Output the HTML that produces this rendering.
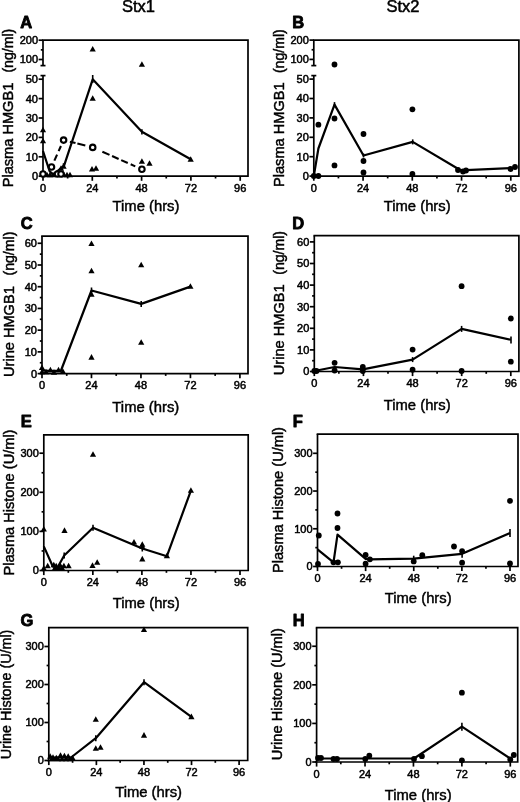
<!DOCTYPE html>
<html><head><meta charset="utf-8"><style>
html,body{margin:0;padding:0;background:#fff;width:520px;height:802px;overflow:hidden}
svg{display:block;will-change:transform}
text{fill:#000}
</style></head><body>
<svg width="520" height="802" viewBox="0 0 520 802" font-family='"Liberation Sans", sans-serif'>
<rect width="520" height="802" fill="#fff"/>
<text x="138.4" y="11.9" font-size="16.5" text-anchor="middle" stroke="#000" stroke-width="0.5">Stx1</text>
<text x="402.9" y="11.9" font-size="16.5" text-anchor="middle" stroke="#000" stroke-width="0.5">Stx2</text>
<path d="M43,40.2H248V176.2H42.2" fill="none" stroke="#000" stroke-width="1.7" stroke-linejoin="miter" stroke-linecap="square"/>
<line x1="43" y1="40.2" x2="43" y2="65.6" stroke="#000" stroke-width="1.7"/>
<line x1="43" y1="75.6" x2="43" y2="176.2" stroke="#000" stroke-width="1.7"/>
<line x1="40.5" y1="65.6" x2="45.5" y2="65.6" stroke="#000" stroke-width="1.7"/>
<line x1="40.5" y1="75.6" x2="45.5" y2="75.6" stroke="#000" stroke-width="1.7"/>
<line x1="43" y1="176.2" x2="43" y2="180.8" stroke="#000" stroke-width="1.7"/>
<text x="43" y="192" font-size="11" font-weight="normal" text-anchor="middle" stroke="#000" stroke-width="0.5">0</text>
<line x1="67.65" y1="176.2" x2="67.65" y2="178.5" stroke="#000" stroke-width="1.7"/>
<line x1="92.3" y1="176.2" x2="92.3" y2="180.8" stroke="#000" stroke-width="1.7"/>
<text x="92.3" y="192" font-size="11" font-weight="normal" text-anchor="middle" stroke="#000" stroke-width="0.5">24</text>
<line x1="116.95" y1="176.2" x2="116.95" y2="178.5" stroke="#000" stroke-width="1.7"/>
<line x1="141.6" y1="176.2" x2="141.6" y2="180.8" stroke="#000" stroke-width="1.7"/>
<text x="141.6" y="192" font-size="11" font-weight="normal" text-anchor="middle" stroke="#000" stroke-width="0.5">48</text>
<line x1="166.25" y1="176.2" x2="166.25" y2="178.5" stroke="#000" stroke-width="1.7"/>
<line x1="190.9" y1="176.2" x2="190.9" y2="180.8" stroke="#000" stroke-width="1.7"/>
<text x="190.9" y="192" font-size="11" font-weight="normal" text-anchor="middle" stroke="#000" stroke-width="0.5">72</text>
<line x1="215.55" y1="176.2" x2="215.55" y2="178.5" stroke="#000" stroke-width="1.7"/>
<line x1="240.2" y1="176.2" x2="240.2" y2="180.8" stroke="#000" stroke-width="1.7"/>
<text x="240.2" y="192" font-size="11" font-weight="normal" text-anchor="middle" stroke="#000" stroke-width="0.5">96</text>
<line x1="38.6" y1="176.2" x2="43" y2="176.2" stroke="#000" stroke-width="1.7"/>
<text x="38" y="180.15" font-size="11" font-weight="normal" text-anchor="end" stroke="#000" stroke-width="0.5">0</text>
<line x1="38.6" y1="156.8" x2="43" y2="156.8" stroke="#000" stroke-width="1.7"/>
<text x="38" y="160.75" font-size="11" font-weight="normal" text-anchor="end" stroke="#000" stroke-width="0.5">10</text>
<line x1="38.6" y1="137.4" x2="43" y2="137.4" stroke="#000" stroke-width="1.7"/>
<text x="38" y="141.35" font-size="11" font-weight="normal" text-anchor="end" stroke="#000" stroke-width="0.5">20</text>
<line x1="38.6" y1="118" x2="43" y2="118" stroke="#000" stroke-width="1.7"/>
<text x="38" y="121.95" font-size="11" font-weight="normal" text-anchor="end" stroke="#000" stroke-width="0.5">30</text>
<line x1="38.6" y1="98.6" x2="43" y2="98.6" stroke="#000" stroke-width="1.7"/>
<text x="38" y="102.55" font-size="11" font-weight="normal" text-anchor="end" stroke="#000" stroke-width="0.5">40</text>
<line x1="38.6" y1="79.2" x2="43" y2="79.2" stroke="#000" stroke-width="1.7"/>
<text x="38" y="83.15" font-size="11" font-weight="normal" text-anchor="end" stroke="#000" stroke-width="0.5">50</text>
<line x1="38.6" y1="59.5" x2="43" y2="59.5" stroke="#000" stroke-width="1.7"/>
<text x="38" y="63.45" font-size="11" font-weight="normal" text-anchor="end" stroke="#000" stroke-width="0.5">100</text>
<line x1="38.6" y1="40.2" x2="43" y2="40.2" stroke="#000" stroke-width="1.7"/>
<text x="38" y="44.15" font-size="11" font-weight="normal" text-anchor="end" stroke="#000" stroke-width="0.5">200</text>
<line x1="40.8" y1="49.85" x2="43" y2="49.85" stroke="#000" stroke-width="1.7"/>
<text x="20.2" y="28.3" font-size="16.5" font-weight="bold" stroke="#000" stroke-width="0.85" stroke-linejoin="round">A</text>
<text transform="translate(13.2,187.3) rotate(-90)" font-size="14.6" text-anchor="start" stroke="#000" stroke-width="0.45">Plasma HMGB1</text>
<text transform="translate(13.2,72.6) rotate(-90)" font-size="14.1" text-anchor="start" stroke="#000" stroke-width="0.45">(ng/ml)</text>
<text x="146" y="211" font-size="14.8" text-anchor="middle" stroke="#000" stroke-width="0.45">Time (hrs)</text>
<path d="M43,126.64L46.1,132.24L39.9,132.24Z" fill="#000"/>
<path d="M43,137.64L46.1,143.24L39.9,143.24Z" fill="#000"/>
<path d="M92.7,45.94L95.8,51.54L89.6,51.54Z" fill="#000"/>
<path d="M141.9,61.14L145,66.74L138.8,66.74Z" fill="#000"/>
<path d="M92.7,95.14L95.8,100.74L89.6,100.74Z" fill="#000"/>
<path d="M141.9,158.14L145,163.74L138.8,163.74Z" fill="#000"/>
<path d="M149.5,160.24L152.6,165.84L146.4,165.84Z" fill="#000"/>
<path d="M92,165.94L95.1,171.54L88.9,171.54Z" fill="#000"/>
<path d="M96,165.14L99.1,170.74L92.9,170.74Z" fill="#000"/>
<path d="M190.7,156.14L193.8,161.74L187.6,161.74Z" fill="#000"/>
<path d="M47,171.64L50.1,177.24L43.9,177.24Z" fill="#000"/>
<path d="M50,171.64L53.1,177.24L46.9,177.24Z" fill="#000"/>
<path d="M53,171.64L56.1,177.24L49.9,177.24Z" fill="#000"/>
<path d="M61,165.14L64.1,170.74L57.9,170.74Z" fill="#000"/>
<path d="M63.6,163.14L66.7,168.74L60.5,168.74Z" fill="#000"/>
<path d="M64,171.64L67.1,177.24L60.9,177.24Z" fill="#000"/>
<path d="M67,171.64L70.1,177.24L63.9,177.24Z" fill="#000"/>
<path d="M70,171.64L73.1,177.24L66.9,177.24Z" fill="#000"/>
<line x1="54.37" y1="160.62" x2="57.08" y2="154.6" stroke="#000" stroke-width="2.1"/>
<line x1="58.64" y1="151.13" x2="60.94" y2="146.02" stroke="#000" stroke-width="2.1"/>
<line x1="69.9" y1="141.68" x2="75.53" y2="143.09" stroke="#000" stroke-width="2.1"/>
<line x1="77.37" y1="143.56" x2="85.33" y2="145.55" stroke="#000" stroke-width="2.1"/>
<line x1="102.38" y1="151.71" x2="109.51" y2="154.88" stroke="#000" stroke-width="2.1"/>
<line x1="112.07" y1="156.02" x2="118.65" y2="158.95" stroke="#000" stroke-width="2.1"/>
<line x1="121.2" y1="160.09" x2="127.78" y2="163.02" stroke="#000" stroke-width="2.1"/>
<line x1="130.7" y1="164.32" x2="135.27" y2="166.35" stroke="#000" stroke-width="2.1"/>
<polyline points="43,151 49.5,171 53,174.5 64,165.8 92.7,79.3 141.9,131.8 190.7,159.3" fill="none" stroke="#000" stroke-width="2.2" stroke-linejoin="round"/>
<line x1="92.7" y1="75" x2="92.7" y2="83" stroke="#000" stroke-width="1.6"/>
<line x1="141.9" y1="129.2" x2="141.9" y2="134.4" stroke="#000" stroke-width="1.6"/>
<line x1="63.5" y1="163.3" x2="63.5" y2="167.7" stroke="#000" stroke-width="1.6"/>
<circle cx="43" cy="174" r="2.75" fill="#fff" stroke="#000" stroke-width="2.1"/>
<circle cx="51.5" cy="167" r="2.75" fill="#fff" stroke="#000" stroke-width="2.1"/>
<circle cx="63.6" cy="140.1" r="2.75" fill="#fff" stroke="#000" stroke-width="2.1"/>
<circle cx="92.7" cy="147.4" r="2.75" fill="#fff" stroke="#000" stroke-width="2.1"/>
<circle cx="141.9" cy="169.3" r="2.75" fill="#fff" stroke="#000" stroke-width="2.1"/>
<circle cx="57.5" cy="174" r="2.75" fill="#fff" stroke="#000" stroke-width="2.1"/>
<circle cx="61" cy="174" r="2.75" fill="#fff" stroke="#000" stroke-width="2.1"/>
<path d="M313.8,40.2H518.9V176.1H313" fill="none" stroke="#000" stroke-width="1.7" stroke-linejoin="miter" stroke-linecap="square"/>
<line x1="313.8" y1="40.2" x2="313.8" y2="65.6" stroke="#000" stroke-width="1.7"/>
<line x1="313.8" y1="75.6" x2="313.8" y2="176.1" stroke="#000" stroke-width="1.7"/>
<line x1="311.3" y1="65.6" x2="316.3" y2="65.6" stroke="#000" stroke-width="1.7"/>
<line x1="311.3" y1="75.6" x2="316.3" y2="75.6" stroke="#000" stroke-width="1.7"/>
<line x1="313.8" y1="176.1" x2="313.8" y2="180.7" stroke="#000" stroke-width="1.7"/>
<text x="313.8" y="191.9" font-size="11" font-weight="normal" text-anchor="middle" stroke="#000" stroke-width="0.5">0</text>
<line x1="338.43" y1="176.1" x2="338.43" y2="178.4" stroke="#000" stroke-width="1.7"/>
<line x1="363.05" y1="176.1" x2="363.05" y2="180.7" stroke="#000" stroke-width="1.7"/>
<text x="363.05" y="191.9" font-size="11" font-weight="normal" text-anchor="middle" stroke="#000" stroke-width="0.5">24</text>
<line x1="387.68" y1="176.1" x2="387.68" y2="178.4" stroke="#000" stroke-width="1.7"/>
<line x1="412.3" y1="176.1" x2="412.3" y2="180.7" stroke="#000" stroke-width="1.7"/>
<text x="412.3" y="191.9" font-size="11" font-weight="normal" text-anchor="middle" stroke="#000" stroke-width="0.5">48</text>
<line x1="436.93" y1="176.1" x2="436.93" y2="178.4" stroke="#000" stroke-width="1.7"/>
<line x1="461.55" y1="176.1" x2="461.55" y2="180.7" stroke="#000" stroke-width="1.7"/>
<text x="461.55" y="191.9" font-size="11" font-weight="normal" text-anchor="middle" stroke="#000" stroke-width="0.5">72</text>
<line x1="486.18" y1="176.1" x2="486.18" y2="178.4" stroke="#000" stroke-width="1.7"/>
<line x1="510.8" y1="176.1" x2="510.8" y2="180.7" stroke="#000" stroke-width="1.7"/>
<text x="510.8" y="191.9" font-size="11" font-weight="normal" text-anchor="middle" stroke="#000" stroke-width="0.5">96</text>
<line x1="309.4" y1="176.1" x2="313.8" y2="176.1" stroke="#000" stroke-width="1.7"/>
<text x="308.8" y="180.05" font-size="11" font-weight="normal" text-anchor="end" stroke="#000" stroke-width="0.5">0</text>
<line x1="309.4" y1="156.7" x2="313.8" y2="156.7" stroke="#000" stroke-width="1.7"/>
<text x="308.8" y="160.65" font-size="11" font-weight="normal" text-anchor="end" stroke="#000" stroke-width="0.5">10</text>
<line x1="309.4" y1="137.3" x2="313.8" y2="137.3" stroke="#000" stroke-width="1.7"/>
<text x="308.8" y="141.25" font-size="11" font-weight="normal" text-anchor="end" stroke="#000" stroke-width="0.5">20</text>
<line x1="309.4" y1="117.9" x2="313.8" y2="117.9" stroke="#000" stroke-width="1.7"/>
<text x="308.8" y="121.85" font-size="11" font-weight="normal" text-anchor="end" stroke="#000" stroke-width="0.5">30</text>
<line x1="309.4" y1="98.5" x2="313.8" y2="98.5" stroke="#000" stroke-width="1.7"/>
<text x="308.8" y="102.45" font-size="11" font-weight="normal" text-anchor="end" stroke="#000" stroke-width="0.5">40</text>
<line x1="309.4" y1="79.1" x2="313.8" y2="79.1" stroke="#000" stroke-width="1.7"/>
<text x="308.8" y="83.05" font-size="11" font-weight="normal" text-anchor="end" stroke="#000" stroke-width="0.5">50</text>
<line x1="309.4" y1="59.4" x2="313.8" y2="59.4" stroke="#000" stroke-width="1.7"/>
<text x="308.8" y="63.35" font-size="11" font-weight="normal" text-anchor="end" stroke="#000" stroke-width="0.5">100</text>
<line x1="309.4" y1="40.1" x2="313.8" y2="40.1" stroke="#000" stroke-width="1.7"/>
<text x="308.8" y="44.05" font-size="11" font-weight="normal" text-anchor="end" stroke="#000" stroke-width="0.5">200</text>
<line x1="311.6" y1="49.75" x2="313.8" y2="49.75" stroke="#000" stroke-width="1.7"/>
<text x="292.3" y="28.3" font-size="16.5" font-weight="bold" stroke="#000" stroke-width="0.85" stroke-linejoin="round">B</text>
<text transform="translate(284.2,187) rotate(-90)" font-size="14.6" text-anchor="start" stroke="#000" stroke-width="0.45">Plasma HMGB1</text>
<text transform="translate(284.2,73.1) rotate(-90)" font-size="14.1" text-anchor="start" stroke="#000" stroke-width="0.45">(ng/ml)</text>
<text x="417.2" y="211.2" font-size="14.8" text-anchor="middle" stroke="#000" stroke-width="0.45">Time (hrs)</text>
<polyline points="313.8,176 318.4,148.5 334.5,104.6 363.5,155.5 412.7,141.9 460.5,170.3 510.8,168" fill="none" stroke="#000" stroke-width="2.2" stroke-linejoin="round"/>
<line x1="334.5" y1="102.1" x2="334.5" y2="107.1" stroke="#000" stroke-width="1.6"/>
<line x1="412.7" y1="139.4" x2="412.7" y2="144.4" stroke="#000" stroke-width="1.6"/>
<line x1="363.5" y1="153.5" x2="363.5" y2="157.5" stroke="#000" stroke-width="1.6"/>
<circle cx="334.5" cy="64.5" r="2.9" fill="#000"/>
<circle cx="334.5" cy="118.5" r="2.9" fill="#000"/>
<circle cx="318.4" cy="124.7" r="2.9" fill="#000"/>
<circle cx="334.5" cy="165.4" r="2.9" fill="#000"/>
<circle cx="363.5" cy="134" r="2.9" fill="#000"/>
<circle cx="363.5" cy="161" r="2.9" fill="#000"/>
<circle cx="363.5" cy="172.5" r="2.9" fill="#000"/>
<circle cx="412.4" cy="109.3" r="2.9" fill="#000"/>
<circle cx="412.4" cy="173.9" r="2.9" fill="#000"/>
<circle cx="318.4" cy="176" r="2.9" fill="#000"/>
<circle cx="313.8" cy="176" r="2.9" fill="#000"/>
<circle cx="458" cy="170" r="2.9" fill="#000"/>
<circle cx="463" cy="171.5" r="2.9" fill="#000"/>
<circle cx="466" cy="170.5" r="2.9" fill="#000"/>
<circle cx="510.5" cy="169" r="2.9" fill="#000"/>
<circle cx="515" cy="167" r="2.9" fill="#000"/>
<path d="M42,236.2H248V373.6H41.2" fill="none" stroke="#000" stroke-width="1.7" stroke-linejoin="miter" stroke-linecap="square"/>
<line x1="42" y1="236.2" x2="42" y2="373.6" stroke="#000" stroke-width="1.7"/>
<line x1="42" y1="373.6" x2="42" y2="378.2" stroke="#000" stroke-width="1.7"/>
<text x="42" y="389.4" font-size="11" font-weight="normal" text-anchor="middle" stroke="#000" stroke-width="0.5">0</text>
<line x1="66.74" y1="373.6" x2="66.74" y2="375.9" stroke="#000" stroke-width="1.7"/>
<line x1="91.47" y1="373.6" x2="91.47" y2="378.2" stroke="#000" stroke-width="1.7"/>
<text x="91.47" y="389.4" font-size="11" font-weight="normal" text-anchor="middle" stroke="#000" stroke-width="0.5">24</text>
<line x1="116.21" y1="373.6" x2="116.21" y2="375.9" stroke="#000" stroke-width="1.7"/>
<line x1="140.95" y1="373.6" x2="140.95" y2="378.2" stroke="#000" stroke-width="1.7"/>
<text x="140.95" y="389.4" font-size="11" font-weight="normal" text-anchor="middle" stroke="#000" stroke-width="0.5">48</text>
<line x1="165.69" y1="373.6" x2="165.69" y2="375.9" stroke="#000" stroke-width="1.7"/>
<line x1="190.43" y1="373.6" x2="190.43" y2="378.2" stroke="#000" stroke-width="1.7"/>
<text x="190.43" y="389.4" font-size="11" font-weight="normal" text-anchor="middle" stroke="#000" stroke-width="0.5">72</text>
<line x1="215.16" y1="373.6" x2="215.16" y2="375.9" stroke="#000" stroke-width="1.7"/>
<line x1="239.9" y1="373.6" x2="239.9" y2="378.2" stroke="#000" stroke-width="1.7"/>
<text x="239.9" y="389.4" font-size="11" font-weight="normal" text-anchor="middle" stroke="#000" stroke-width="0.5">96</text>
<line x1="37.6" y1="373.6" x2="42" y2="373.6" stroke="#000" stroke-width="1.7"/>
<text x="37" y="377.55" font-size="11" font-weight="normal" text-anchor="end" stroke="#000" stroke-width="0.5">0</text>
<line x1="37.6" y1="351.88" x2="42" y2="351.88" stroke="#000" stroke-width="1.7"/>
<text x="37" y="355.83" font-size="11" font-weight="normal" text-anchor="end" stroke="#000" stroke-width="0.5">10</text>
<line x1="37.6" y1="330.16" x2="42" y2="330.16" stroke="#000" stroke-width="1.7"/>
<text x="37" y="334.11" font-size="11" font-weight="normal" text-anchor="end" stroke="#000" stroke-width="0.5">20</text>
<line x1="37.6" y1="308.44" x2="42" y2="308.44" stroke="#000" stroke-width="1.7"/>
<text x="37" y="312.39" font-size="11" font-weight="normal" text-anchor="end" stroke="#000" stroke-width="0.5">30</text>
<line x1="37.6" y1="286.72" x2="42" y2="286.72" stroke="#000" stroke-width="1.7"/>
<text x="37" y="290.67" font-size="11" font-weight="normal" text-anchor="end" stroke="#000" stroke-width="0.5">40</text>
<line x1="37.6" y1="265" x2="42" y2="265" stroke="#000" stroke-width="1.7"/>
<text x="37" y="268.95" font-size="11" font-weight="normal" text-anchor="end" stroke="#000" stroke-width="0.5">50</text>
<line x1="37.6" y1="243.28" x2="42" y2="243.28" stroke="#000" stroke-width="1.7"/>
<text x="37" y="247.23" font-size="11" font-weight="normal" text-anchor="end" stroke="#000" stroke-width="0.5">60</text>
<line x1="39.8" y1="362.74" x2="42" y2="362.74" stroke="#000" stroke-width="1.7"/>
<line x1="39.8" y1="341.02" x2="42" y2="341.02" stroke="#000" stroke-width="1.7"/>
<line x1="39.8" y1="319.3" x2="42" y2="319.3" stroke="#000" stroke-width="1.7"/>
<line x1="39.8" y1="297.58" x2="42" y2="297.58" stroke="#000" stroke-width="1.7"/>
<line x1="39.8" y1="275.86" x2="42" y2="275.86" stroke="#000" stroke-width="1.7"/>
<line x1="39.8" y1="254.14" x2="42" y2="254.14" stroke="#000" stroke-width="1.7"/>
<text x="20.8" y="229" font-size="16.5" font-weight="bold" stroke="#000" stroke-width="0.85" stroke-linejoin="round">C</text>
<text transform="translate(13.6,377) rotate(-90)" font-size="14.6" text-anchor="start" stroke="#000" stroke-width="0.45">Urine HMGB1</text>
<text transform="translate(13.6,275.5) rotate(-90)" font-size="14.1" text-anchor="start" stroke="#000" stroke-width="0.45">(ng/ml)</text>
<text x="145.8" y="412" font-size="14.8" text-anchor="middle" stroke="#000" stroke-width="0.45">Time (hrs)</text>
<polyline points="42,370.5 50,370.8 58.5,370.8 61,370.5 91.5,290.5 141.2,303.9 190.4,286.6" fill="none" stroke="#000" stroke-width="2.2" stroke-linejoin="round"/>
<line x1="91.5" y1="287.5" x2="91.5" y2="293.5" stroke="#000" stroke-width="1.6"/>
<line x1="141.2" y1="300.9" x2="141.2" y2="306.9" stroke="#000" stroke-width="1.6"/>
<path d="M91.5,240.44L94.6,246.04L88.4,246.04Z" fill="#000"/>
<path d="M91.5,267.64L94.6,273.24L88.4,273.24Z" fill="#000"/>
<path d="M91.5,291.24L94.6,296.84L88.4,296.84Z" fill="#000"/>
<path d="M91.5,354.04L94.6,359.64L88.4,359.64Z" fill="#000"/>
<path d="M141.2,261.64L144.3,267.24L138.1,267.24Z" fill="#000"/>
<path d="M141.2,339.14L144.3,344.74L138.1,344.74Z" fill="#000"/>
<path d="M190.4,283.24L193.5,288.84L187.3,288.84Z" fill="#000"/>
<path d="M42,364.44L45.1,370.04L38.9,370.04Z" fill="#000"/>
<path d="M42,368.64L45.1,374.24L38.9,374.24Z" fill="#000"/>
<path d="M46,368.64L49.1,374.24L42.9,374.24Z" fill="#000"/>
<path d="M50.4,366.84L53.5,372.44L47.3,372.44Z" fill="#000"/>
<path d="M58.5,366.84L61.6,372.44L55.4,372.44Z" fill="#000"/>
<path d="M62.9,368.14L66,373.74L59.8,373.74Z" fill="#000"/>
<path d="M54,369.14L57.1,374.74L50.9,374.74Z" fill="#000"/>
<path d="M314.3,235.6H518.9V371.5H313.5" fill="none" stroke="#000" stroke-width="1.7" stroke-linejoin="miter" stroke-linecap="square"/>
<line x1="314.3" y1="235.6" x2="314.3" y2="371.5" stroke="#000" stroke-width="1.7"/>
<line x1="314.3" y1="371.5" x2="314.3" y2="376.1" stroke="#000" stroke-width="1.7"/>
<text x="314.3" y="387.3" font-size="11" font-weight="normal" text-anchor="middle" stroke="#000" stroke-width="0.5">0</text>
<line x1="338.86" y1="371.5" x2="338.86" y2="373.8" stroke="#000" stroke-width="1.7"/>
<line x1="363.43" y1="371.5" x2="363.43" y2="376.1" stroke="#000" stroke-width="1.7"/>
<text x="363.43" y="387.3" font-size="11" font-weight="normal" text-anchor="middle" stroke="#000" stroke-width="0.5">24</text>
<line x1="387.99" y1="371.5" x2="387.99" y2="373.8" stroke="#000" stroke-width="1.7"/>
<line x1="412.55" y1="371.5" x2="412.55" y2="376.1" stroke="#000" stroke-width="1.7"/>
<text x="412.55" y="387.3" font-size="11" font-weight="normal" text-anchor="middle" stroke="#000" stroke-width="0.5">48</text>
<line x1="437.11" y1="371.5" x2="437.11" y2="373.8" stroke="#000" stroke-width="1.7"/>
<line x1="461.68" y1="371.5" x2="461.68" y2="376.1" stroke="#000" stroke-width="1.7"/>
<text x="461.68" y="387.3" font-size="11" font-weight="normal" text-anchor="middle" stroke="#000" stroke-width="0.5">72</text>
<line x1="486.24" y1="371.5" x2="486.24" y2="373.8" stroke="#000" stroke-width="1.7"/>
<line x1="510.8" y1="371.5" x2="510.8" y2="376.1" stroke="#000" stroke-width="1.7"/>
<text x="510.8" y="387.3" font-size="11" font-weight="normal" text-anchor="middle" stroke="#000" stroke-width="0.5">96</text>
<line x1="309.9" y1="371.5" x2="314.3" y2="371.5" stroke="#000" stroke-width="1.7"/>
<text x="309.3" y="375.45" font-size="11" font-weight="normal" text-anchor="end" stroke="#000" stroke-width="0.5">0</text>
<line x1="309.9" y1="349.9" x2="314.3" y2="349.9" stroke="#000" stroke-width="1.7"/>
<text x="309.3" y="353.85" font-size="11" font-weight="normal" text-anchor="end" stroke="#000" stroke-width="0.5">10</text>
<line x1="309.9" y1="328.3" x2="314.3" y2="328.3" stroke="#000" stroke-width="1.7"/>
<text x="309.3" y="332.25" font-size="11" font-weight="normal" text-anchor="end" stroke="#000" stroke-width="0.5">20</text>
<line x1="309.9" y1="306.7" x2="314.3" y2="306.7" stroke="#000" stroke-width="1.7"/>
<text x="309.3" y="310.65" font-size="11" font-weight="normal" text-anchor="end" stroke="#000" stroke-width="0.5">30</text>
<line x1="309.9" y1="285.1" x2="314.3" y2="285.1" stroke="#000" stroke-width="1.7"/>
<text x="309.3" y="289.05" font-size="11" font-weight="normal" text-anchor="end" stroke="#000" stroke-width="0.5">40</text>
<line x1="309.9" y1="263.5" x2="314.3" y2="263.5" stroke="#000" stroke-width="1.7"/>
<text x="309.3" y="267.45" font-size="11" font-weight="normal" text-anchor="end" stroke="#000" stroke-width="0.5">50</text>
<line x1="309.9" y1="241.9" x2="314.3" y2="241.9" stroke="#000" stroke-width="1.7"/>
<text x="309.3" y="245.85" font-size="11" font-weight="normal" text-anchor="end" stroke="#000" stroke-width="0.5">60</text>
<line x1="312.1" y1="360.7" x2="314.3" y2="360.7" stroke="#000" stroke-width="1.7"/>
<line x1="312.1" y1="339.1" x2="314.3" y2="339.1" stroke="#000" stroke-width="1.7"/>
<line x1="312.1" y1="317.5" x2="314.3" y2="317.5" stroke="#000" stroke-width="1.7"/>
<line x1="312.1" y1="295.9" x2="314.3" y2="295.9" stroke="#000" stroke-width="1.7"/>
<line x1="312.1" y1="274.3" x2="314.3" y2="274.3" stroke="#000" stroke-width="1.7"/>
<line x1="312.1" y1="252.7" x2="314.3" y2="252.7" stroke="#000" stroke-width="1.7"/>
<text x="292.3" y="229" font-size="16.5" font-weight="bold" stroke="#000" stroke-width="0.85" stroke-linejoin="round">D</text>
<text transform="translate(284.2,375.2) rotate(-90)" font-size="14.6" text-anchor="start" stroke="#000" stroke-width="0.45">Urine HMGB1</text>
<text transform="translate(284.2,274.8) rotate(-90)" font-size="14.1" text-anchor="start" stroke="#000" stroke-width="0.45">(ng/ml)</text>
<text x="417.2" y="409.6" font-size="14.8" text-anchor="middle" stroke="#000" stroke-width="0.45">Time (hrs)</text>
<polyline points="314.3,371 334.6,367 362.8,369.3 412.6,359.6 461.6,328.9 510.8,339.8" fill="none" stroke="#000" stroke-width="2.2" stroke-linejoin="round"/>
<line x1="412.6" y1="357.1" x2="412.6" y2="362.1" stroke="#000" stroke-width="1.6"/>
<line x1="461.6" y1="325.9" x2="461.6" y2="331.9" stroke="#000" stroke-width="1.6"/>
<line x1="511" y1="336.4" x2="511" y2="343.6" stroke="#000" stroke-width="1.6"/>
<circle cx="314.3" cy="371" r="2.9" fill="#000"/>
<circle cx="316.5" cy="371" r="2.9" fill="#000"/>
<circle cx="334.6" cy="362.8" r="2.9" fill="#000"/>
<circle cx="334.6" cy="370.5" r="2.9" fill="#000"/>
<circle cx="362.8" cy="367" r="2.9" fill="#000"/>
<circle cx="362.8" cy="371" r="2.9" fill="#000"/>
<circle cx="412.6" cy="349.6" r="2.9" fill="#000"/>
<circle cx="412.6" cy="369.7" r="2.9" fill="#000"/>
<circle cx="461.6" cy="286.2" r="2.9" fill="#000"/>
<circle cx="461.6" cy="371" r="2.9" fill="#000"/>
<circle cx="510.8" cy="318.5" r="2.9" fill="#000"/>
<circle cx="510.8" cy="361.7" r="2.9" fill="#000"/>
<path d="M43.8,434.8H248.2V570.5H43" fill="none" stroke="#000" stroke-width="1.7" stroke-linejoin="miter" stroke-linecap="square"/>
<line x1="43.8" y1="434.8" x2="43.8" y2="570.5" stroke="#000" stroke-width="1.7"/>
<line x1="43.8" y1="570.5" x2="43.8" y2="575.1" stroke="#000" stroke-width="1.7"/>
<text x="43.8" y="586.3" font-size="11" font-weight="normal" text-anchor="middle" stroke="#000" stroke-width="0.5">0</text>
<line x1="68.32" y1="570.5" x2="68.32" y2="572.8" stroke="#000" stroke-width="1.7"/>
<line x1="92.85" y1="570.5" x2="92.85" y2="575.1" stroke="#000" stroke-width="1.7"/>
<text x="92.85" y="586.3" font-size="11" font-weight="normal" text-anchor="middle" stroke="#000" stroke-width="0.5">24</text>
<line x1="117.38" y1="570.5" x2="117.38" y2="572.8" stroke="#000" stroke-width="1.7"/>
<line x1="141.9" y1="570.5" x2="141.9" y2="575.1" stroke="#000" stroke-width="1.7"/>
<text x="141.9" y="586.3" font-size="11" font-weight="normal" text-anchor="middle" stroke="#000" stroke-width="0.5">48</text>
<line x1="166.43" y1="570.5" x2="166.43" y2="572.8" stroke="#000" stroke-width="1.7"/>
<line x1="190.95" y1="570.5" x2="190.95" y2="575.1" stroke="#000" stroke-width="1.7"/>
<text x="190.95" y="586.3" font-size="11" font-weight="normal" text-anchor="middle" stroke="#000" stroke-width="0.5">72</text>
<line x1="215.47" y1="570.5" x2="215.47" y2="572.8" stroke="#000" stroke-width="1.7"/>
<line x1="240" y1="570.5" x2="240" y2="575.1" stroke="#000" stroke-width="1.7"/>
<text x="240" y="586.3" font-size="11" font-weight="normal" text-anchor="middle" stroke="#000" stroke-width="0.5">96</text>
<line x1="39.4" y1="570.5" x2="43.8" y2="570.5" stroke="#000" stroke-width="1.7"/>
<text x="38.8" y="574.45" font-size="11" font-weight="normal" text-anchor="end" stroke="#000" stroke-width="0.5">0</text>
<line x1="39.4" y1="531.4" x2="43.8" y2="531.4" stroke="#000" stroke-width="1.7"/>
<text x="38.8" y="535.35" font-size="11" font-weight="normal" text-anchor="end" stroke="#000" stroke-width="0.5">100</text>
<line x1="39.4" y1="492.3" x2="43.8" y2="492.3" stroke="#000" stroke-width="1.7"/>
<text x="38.8" y="496.25" font-size="11" font-weight="normal" text-anchor="end" stroke="#000" stroke-width="0.5">200</text>
<line x1="39.4" y1="453.2" x2="43.8" y2="453.2" stroke="#000" stroke-width="1.7"/>
<text x="38.8" y="457.15" font-size="11" font-weight="normal" text-anchor="end" stroke="#000" stroke-width="0.5">300</text>
<line x1="41.6" y1="550.95" x2="43.8" y2="550.95" stroke="#000" stroke-width="1.7"/>
<line x1="41.6" y1="511.85" x2="43.8" y2="511.85" stroke="#000" stroke-width="1.7"/>
<line x1="41.6" y1="472.75" x2="43.8" y2="472.75" stroke="#000" stroke-width="1.7"/>
<text x="20.8" y="427" font-size="16.5" font-weight="bold" stroke="#000" stroke-width="0.85" stroke-linejoin="round">E</text>
<text transform="translate(13.6,502.5) rotate(-90)" font-size="14.6" text-anchor="middle" stroke="#000" stroke-width="0.45">Plasma Histone (U/ml)</text>
<text x="146.2" y="608.2" font-size="14.8" text-anchor="middle" stroke="#000" stroke-width="0.45">Time (hrs)</text>
<polyline points="43.8,546.4 52.8,566.5 57.5,567.5 64.2,555.5 93,527.8 142.3,548.5 166.9,556.2 190.9,490.6" fill="none" stroke="#000" stroke-width="2.2" stroke-linejoin="round"/>
<line x1="93" y1="524.8" x2="93" y2="530.8" stroke="#000" stroke-width="1.6"/>
<line x1="64.2" y1="552.5" x2="64.2" y2="558.5" stroke="#000" stroke-width="1.6"/>
<line x1="142.3" y1="545.5" x2="142.3" y2="551.5" stroke="#000" stroke-width="1.6"/>
<path d="M43.8,525.94L46.9,531.54L40.7,531.54Z" fill="#000"/>
<path d="M64.5,527.34L67.6,532.94L61.4,532.94Z" fill="#000"/>
<path d="M43.8,565.04L46.9,570.64L40.7,570.64Z" fill="#000"/>
<path d="M47.7,562.64L50.8,568.24L44.6,568.24Z" fill="#000"/>
<path d="M53.8,561.64L56.9,567.24L50.7,567.24Z" fill="#000"/>
<path d="M56.2,562.84L59.3,568.44L53.1,568.44Z" fill="#000"/>
<path d="M60.2,562.24L63.3,567.84L57.1,567.84Z" fill="#000"/>
<path d="M63.9,562.64L67,568.24L60.8,568.24Z" fill="#000"/>
<path d="M68.6,562.64L71.7,568.24L65.5,568.24Z" fill="#000"/>
<path d="M55,564.64L58.1,570.24L51.9,570.24Z" fill="#000"/>
<path d="M59,564.64L62.1,570.24L55.9,570.24Z" fill="#000"/>
<path d="M62,564.64L65.1,570.24L58.9,570.24Z" fill="#000"/>
<path d="M92.5,562.34L95.6,567.94L89.4,567.94Z" fill="#000"/>
<path d="M97.2,559.24L100.3,564.84L94.1,564.84Z" fill="#000"/>
<path d="M93,451.24L96.1,456.84L89.9,456.84Z" fill="#000"/>
<path d="M134,538.94L137.1,544.54L130.9,544.54Z" fill="#000"/>
<path d="M142.3,541.14L145.4,546.74L139.2,546.74Z" fill="#000"/>
<path d="M142.3,543.14L145.4,548.74L139.2,548.74Z" fill="#000"/>
<path d="M142.3,555.84L145.4,561.44L139.2,561.44Z" fill="#000"/>
<path d="M166.9,552.64L170,558.24L163.8,558.24Z" fill="#000"/>
<path d="M190.9,487.24L194,492.84L187.8,492.84Z" fill="#000"/>
<path d="M317.5,434.1H518V566.5H316.7" fill="none" stroke="#000" stroke-width="1.7" stroke-linejoin="miter" stroke-linecap="square"/>
<line x1="317.5" y1="434.1" x2="317.5" y2="566.5" stroke="#000" stroke-width="1.7"/>
<line x1="317.5" y1="566.5" x2="317.5" y2="571.1" stroke="#000" stroke-width="1.7"/>
<text x="317.5" y="582.3" font-size="11" font-weight="normal" text-anchor="middle" stroke="#000" stroke-width="0.5">0</text>
<line x1="341.56" y1="566.5" x2="341.56" y2="568.8" stroke="#000" stroke-width="1.7"/>
<line x1="365.62" y1="566.5" x2="365.62" y2="571.1" stroke="#000" stroke-width="1.7"/>
<text x="365.62" y="582.3" font-size="11" font-weight="normal" text-anchor="middle" stroke="#000" stroke-width="0.5">24</text>
<line x1="389.69" y1="566.5" x2="389.69" y2="568.8" stroke="#000" stroke-width="1.7"/>
<line x1="413.75" y1="566.5" x2="413.75" y2="571.1" stroke="#000" stroke-width="1.7"/>
<text x="413.75" y="582.3" font-size="11" font-weight="normal" text-anchor="middle" stroke="#000" stroke-width="0.5">48</text>
<line x1="437.81" y1="566.5" x2="437.81" y2="568.8" stroke="#000" stroke-width="1.7"/>
<line x1="461.88" y1="566.5" x2="461.88" y2="571.1" stroke="#000" stroke-width="1.7"/>
<text x="461.88" y="582.3" font-size="11" font-weight="normal" text-anchor="middle" stroke="#000" stroke-width="0.5">72</text>
<line x1="485.94" y1="566.5" x2="485.94" y2="568.8" stroke="#000" stroke-width="1.7"/>
<line x1="510" y1="566.5" x2="510" y2="571.1" stroke="#000" stroke-width="1.7"/>
<text x="510" y="582.3" font-size="11" font-weight="normal" text-anchor="middle" stroke="#000" stroke-width="0.5">96</text>
<line x1="313.1" y1="566.5" x2="317.5" y2="566.5" stroke="#000" stroke-width="1.7"/>
<text x="312.5" y="570.45" font-size="11" font-weight="normal" text-anchor="end" stroke="#000" stroke-width="0.5">0</text>
<line x1="313.1" y1="528.77" x2="317.5" y2="528.77" stroke="#000" stroke-width="1.7"/>
<text x="312.5" y="532.72" font-size="11" font-weight="normal" text-anchor="end" stroke="#000" stroke-width="0.5">100</text>
<line x1="313.1" y1="491.04" x2="317.5" y2="491.04" stroke="#000" stroke-width="1.7"/>
<text x="312.5" y="494.99" font-size="11" font-weight="normal" text-anchor="end" stroke="#000" stroke-width="0.5">200</text>
<line x1="313.1" y1="453.31" x2="317.5" y2="453.31" stroke="#000" stroke-width="1.7"/>
<text x="312.5" y="457.26" font-size="11" font-weight="normal" text-anchor="end" stroke="#000" stroke-width="0.5">300</text>
<line x1="315.3" y1="547.63" x2="317.5" y2="547.63" stroke="#000" stroke-width="1.7"/>
<line x1="315.3" y1="509.9" x2="317.5" y2="509.9" stroke="#000" stroke-width="1.7"/>
<line x1="315.3" y1="472.18" x2="317.5" y2="472.18" stroke="#000" stroke-width="1.7"/>
<text x="292.8" y="427.3" font-size="16.5" font-weight="bold" stroke="#000" stroke-width="0.85" stroke-linejoin="round">F</text>
<text transform="translate(282.8,500) rotate(-90)" font-size="14.6" text-anchor="middle" stroke="#000" stroke-width="0.45">Plasma Histone (U/ml)</text>
<text x="418.2" y="603.2" font-size="14.8" text-anchor="middle" stroke="#000" stroke-width="0.45">Time (hrs)</text>
<polyline points="317.5,549.3 333.5,562.3 337.5,534.6 365.6,558.8 369.9,559.3 413.7,558.7 462.1,553.8 510,533.1" fill="none" stroke="#000" stroke-width="2.2" stroke-linejoin="round"/>
<line x1="413.7" y1="555.7" x2="413.7" y2="561.7" stroke="#000" stroke-width="1.6"/>
<line x1="462.1" y1="549.8" x2="462.1" y2="557.8" stroke="#000" stroke-width="1.6"/>
<line x1="510" y1="529.1" x2="510" y2="537.1" stroke="#000" stroke-width="1.6"/>
<circle cx="318.8" cy="535.5" r="2.9" fill="#000"/>
<circle cx="318" cy="564" r="2.9" fill="#000"/>
<circle cx="337.5" cy="513.5" r="2.9" fill="#000"/>
<circle cx="337.5" cy="528" r="2.9" fill="#000"/>
<circle cx="337.9" cy="562.3" r="2.9" fill="#000"/>
<circle cx="333.5" cy="562.3" r="2.9" fill="#000"/>
<circle cx="365.6" cy="555" r="2.9" fill="#000"/>
<circle cx="365.6" cy="563.7" r="2.9" fill="#000"/>
<circle cx="369.9" cy="559.3" r="2.9" fill="#000"/>
<circle cx="413.7" cy="561.4" r="2.9" fill="#000"/>
<circle cx="422.3" cy="555.2" r="2.9" fill="#000"/>
<circle cx="454" cy="546.5" r="2.9" fill="#000"/>
<circle cx="462.1" cy="551.1" r="2.9" fill="#000"/>
<circle cx="462.1" cy="562.7" r="2.9" fill="#000"/>
<circle cx="510" cy="500.8" r="2.9" fill="#000"/>
<circle cx="510" cy="563.5" r="2.9" fill="#000"/>
<path d="M48.8,627.7H247.7V760.5H48" fill="none" stroke="#000" stroke-width="1.7" stroke-linejoin="miter" stroke-linecap="square"/>
<line x1="48.8" y1="627.7" x2="48.8" y2="760.5" stroke="#000" stroke-width="1.7"/>
<line x1="48.8" y1="760.5" x2="48.8" y2="765.1" stroke="#000" stroke-width="1.7"/>
<text x="48.8" y="776.3" font-size="11" font-weight="normal" text-anchor="middle" stroke="#000" stroke-width="0.5">0</text>
<line x1="72.59" y1="760.5" x2="72.59" y2="762.8" stroke="#000" stroke-width="1.7"/>
<line x1="96.38" y1="760.5" x2="96.38" y2="765.1" stroke="#000" stroke-width="1.7"/>
<text x="96.38" y="776.3" font-size="11" font-weight="normal" text-anchor="middle" stroke="#000" stroke-width="0.5">24</text>
<line x1="120.16" y1="760.5" x2="120.16" y2="762.8" stroke="#000" stroke-width="1.7"/>
<line x1="143.95" y1="760.5" x2="143.95" y2="765.1" stroke="#000" stroke-width="1.7"/>
<text x="143.95" y="776.3" font-size="11" font-weight="normal" text-anchor="middle" stroke="#000" stroke-width="0.5">48</text>
<line x1="167.74" y1="760.5" x2="167.74" y2="762.8" stroke="#000" stroke-width="1.7"/>
<line x1="191.52" y1="760.5" x2="191.52" y2="765.1" stroke="#000" stroke-width="1.7"/>
<text x="191.52" y="776.3" font-size="11" font-weight="normal" text-anchor="middle" stroke="#000" stroke-width="0.5">72</text>
<line x1="215.31" y1="760.5" x2="215.31" y2="762.8" stroke="#000" stroke-width="1.7"/>
<line x1="239.1" y1="760.5" x2="239.1" y2="765.1" stroke="#000" stroke-width="1.7"/>
<text x="239.1" y="776.3" font-size="11" font-weight="normal" text-anchor="middle" stroke="#000" stroke-width="0.5">96</text>
<line x1="44.4" y1="760.5" x2="48.8" y2="760.5" stroke="#000" stroke-width="1.7"/>
<text x="43.8" y="764.45" font-size="11" font-weight="normal" text-anchor="end" stroke="#000" stroke-width="0.5">0</text>
<line x1="44.4" y1="722.5" x2="48.8" y2="722.5" stroke="#000" stroke-width="1.7"/>
<text x="43.8" y="726.45" font-size="11" font-weight="normal" text-anchor="end" stroke="#000" stroke-width="0.5">100</text>
<line x1="44.4" y1="684.5" x2="48.8" y2="684.5" stroke="#000" stroke-width="1.7"/>
<text x="43.8" y="688.45" font-size="11" font-weight="normal" text-anchor="end" stroke="#000" stroke-width="0.5">200</text>
<line x1="44.4" y1="646.5" x2="48.8" y2="646.5" stroke="#000" stroke-width="1.7"/>
<text x="43.8" y="650.45" font-size="11" font-weight="normal" text-anchor="end" stroke="#000" stroke-width="0.5">300</text>
<line x1="46.6" y1="741.5" x2="48.8" y2="741.5" stroke="#000" stroke-width="1.7"/>
<line x1="46.6" y1="703.5" x2="48.8" y2="703.5" stroke="#000" stroke-width="1.7"/>
<line x1="46.6" y1="665.5" x2="48.8" y2="665.5" stroke="#000" stroke-width="1.7"/>
<text x="20.6" y="625.5" font-size="16.5" font-weight="bold" stroke="#000" stroke-width="0.85" stroke-linejoin="round">G</text>
<text transform="translate(11.2,694.4) rotate(-90)" font-size="14.3" text-anchor="middle" stroke="#000" stroke-width="0.45">Urine Histone (U/ml)</text>
<text x="148.6" y="796.7" font-size="14.8" text-anchor="middle" stroke="#000" stroke-width="0.45">Time (hrs)</text>
<polyline points="48.8,757.5 71,757.5 95.8,738.2 144,682.2 191.4,716.9" fill="none" stroke="#000" stroke-width="2.2" stroke-linejoin="round"/>
<line x1="95.8" y1="735.2" x2="95.8" y2="741.2" stroke="#000" stroke-width="1.6"/>
<line x1="144" y1="679.2" x2="144" y2="685.2" stroke="#000" stroke-width="1.6"/>
<path d="M95.8,716.14L98.9,721.74L92.7,721.74Z" fill="#000"/>
<path d="M95.8,745.14L98.9,750.74L92.7,750.74Z" fill="#000"/>
<path d="M100.5,744.24L103.6,749.84L97.4,749.84Z" fill="#000"/>
<path d="M144,626.44L147.1,632.04L140.9,632.04Z" fill="#000"/>
<path d="M144,732.04L147.1,737.64L140.9,737.64Z" fill="#000"/>
<path d="M191.4,713.54L194.5,719.14L188.3,719.14Z" fill="#000"/>
<path d="M50.2,753.14L53.3,758.74L47.1,758.74Z" fill="#000"/>
<path d="M53,754.14L56.1,759.74L49.9,759.74Z" fill="#000"/>
<path d="M56.3,754.64L59.4,760.24L53.2,760.24Z" fill="#000"/>
<path d="M60.5,752.14L63.6,757.74L57.4,757.74Z" fill="#000"/>
<path d="M64.4,752.64L67.5,758.24L61.3,758.24Z" fill="#000"/>
<path d="M68.2,753.14L71.3,758.74L65.1,758.74Z" fill="#000"/>
<path d="M72.5,754.64L75.6,760.24L69.4,760.24Z" fill="#000"/>
<path d="M52,755.64L55.1,761.24L48.9,761.24Z" fill="#000"/>
<path d="M58,755.64L61.1,761.24L54.9,761.24Z" fill="#000"/>
<path d="M62,755.64L65.1,761.24L58.9,761.24Z" fill="#000"/>
<path d="M66,755.64L69.1,761.24L62.9,761.24Z" fill="#000"/>
<path d="M70,755.64L73.1,761.24L66.9,761.24Z" fill="#000"/>
<path d="M316.6,627.7H517.7V762H315.8" fill="none" stroke="#000" stroke-width="1.7" stroke-linejoin="miter" stroke-linecap="square"/>
<line x1="316.6" y1="627.7" x2="316.6" y2="762" stroke="#000" stroke-width="1.7"/>
<line x1="316.6" y1="762" x2="316.6" y2="766.6" stroke="#000" stroke-width="1.7"/>
<text x="316.6" y="777.8" font-size="11" font-weight="normal" text-anchor="middle" stroke="#000" stroke-width="0.5">0</text>
<line x1="340.81" y1="762" x2="340.81" y2="764.3" stroke="#000" stroke-width="1.7"/>
<line x1="365.03" y1="762" x2="365.03" y2="766.6" stroke="#000" stroke-width="1.7"/>
<text x="365.03" y="777.8" font-size="11" font-weight="normal" text-anchor="middle" stroke="#000" stroke-width="0.5">24</text>
<line x1="389.24" y1="762" x2="389.24" y2="764.3" stroke="#000" stroke-width="1.7"/>
<line x1="413.45" y1="762" x2="413.45" y2="766.6" stroke="#000" stroke-width="1.7"/>
<text x="413.45" y="777.8" font-size="11" font-weight="normal" text-anchor="middle" stroke="#000" stroke-width="0.5">48</text>
<line x1="437.66" y1="762" x2="437.66" y2="764.3" stroke="#000" stroke-width="1.7"/>
<line x1="461.88" y1="762" x2="461.88" y2="766.6" stroke="#000" stroke-width="1.7"/>
<text x="461.88" y="777.8" font-size="11" font-weight="normal" text-anchor="middle" stroke="#000" stroke-width="0.5">72</text>
<line x1="486.09" y1="762" x2="486.09" y2="764.3" stroke="#000" stroke-width="1.7"/>
<line x1="510.3" y1="762" x2="510.3" y2="766.6" stroke="#000" stroke-width="1.7"/>
<text x="510.3" y="777.8" font-size="11" font-weight="normal" text-anchor="middle" stroke="#000" stroke-width="0.5">96</text>
<line x1="312.2" y1="762" x2="316.6" y2="762" stroke="#000" stroke-width="1.7"/>
<text x="311.6" y="765.95" font-size="11" font-weight="normal" text-anchor="end" stroke="#000" stroke-width="0.5">0</text>
<line x1="312.2" y1="723.42" x2="316.6" y2="723.42" stroke="#000" stroke-width="1.7"/>
<text x="311.6" y="727.37" font-size="11" font-weight="normal" text-anchor="end" stroke="#000" stroke-width="0.5">100</text>
<line x1="312.2" y1="684.84" x2="316.6" y2="684.84" stroke="#000" stroke-width="1.7"/>
<text x="311.6" y="688.79" font-size="11" font-weight="normal" text-anchor="end" stroke="#000" stroke-width="0.5">200</text>
<line x1="312.2" y1="646.26" x2="316.6" y2="646.26" stroke="#000" stroke-width="1.7"/>
<text x="311.6" y="650.21" font-size="11" font-weight="normal" text-anchor="end" stroke="#000" stroke-width="0.5">300</text>
<line x1="314.4" y1="742.71" x2="316.6" y2="742.71" stroke="#000" stroke-width="1.7"/>
<line x1="314.4" y1="704.13" x2="316.6" y2="704.13" stroke="#000" stroke-width="1.7"/>
<line x1="314.4" y1="665.55" x2="316.6" y2="665.55" stroke="#000" stroke-width="1.7"/>
<text x="292.8" y="626.3" font-size="16.5" font-weight="bold" stroke="#000" stroke-width="0.85" stroke-linejoin="round">H</text>
<text transform="translate(282.4,694.2) rotate(-90)" font-size="14.6" text-anchor="middle" stroke="#000" stroke-width="0.45">Urine Histone (U/ml)</text>
<text x="418.2" y="799.5" font-size="14.8" text-anchor="middle" stroke="#000" stroke-width="0.45">Time (hrs)</text>
<polyline points="316.6,758.5 414,758.5 461.9,726.7 510.3,758.5" fill="none" stroke="#000" stroke-width="2.2" stroke-linejoin="round"/>
<line x1="461.9" y1="722.7" x2="461.9" y2="730.7" stroke="#000" stroke-width="1.6"/>
<circle cx="318" cy="758" r="2.9" fill="#000"/>
<circle cx="321" cy="758" r="2.9" fill="#000"/>
<circle cx="333.5" cy="759" r="2.9" fill="#000"/>
<circle cx="337" cy="759" r="2.9" fill="#000"/>
<circle cx="365.3" cy="759" r="2.9" fill="#000"/>
<circle cx="369.3" cy="755.7" r="2.9" fill="#000"/>
<circle cx="414" cy="759" r="2.9" fill="#000"/>
<circle cx="421.9" cy="756.2" r="2.9" fill="#000"/>
<circle cx="461.9" cy="692.7" r="2.9" fill="#000"/>
<circle cx="461.9" cy="760.3" r="2.9" fill="#000"/>
<circle cx="510.3" cy="759.5" r="2.9" fill="#000"/>
<circle cx="513.8" cy="755" r="2.9" fill="#000"/>
</svg>
</body></html>
